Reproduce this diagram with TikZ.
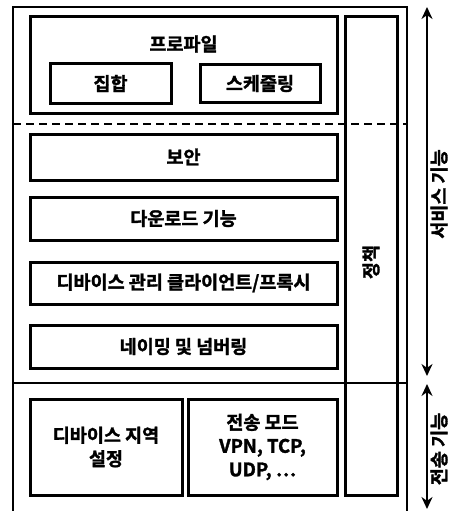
\documentclass[tikz,border=0pt]{standalone}
\usepackage{fontspec}
\setmainfont{Noto Sans CJK KR}[BoldFont={* Bold},BoldFeatures={FakeBold=1.6}]
\usetikzlibrary{arrows.meta}
\begin{document}
\begin{tikzpicture}[x=1pt,y=-1pt,
  box/.style={draw=black,line width=3pt,rectangle,inner sep=0pt,font=\bfseries\fontsize{18.5}{23.5}\selectfont,align=center},
  lbl/.style={inner sep=0pt,font=\bfseries\fontsize{18.5}{23.5}\selectfont,align=center},
  frame/.style={draw=black,line width=2.6pt},
  dbl/.style={line width=2.6pt,{Stealth[length=12pt,width=11pt]}-{Stealth[length=12pt,width=11pt]}}
]
\useasboundingbox (0,0) rectangle (456,511);
% outer frame
\coordinate (fbl) at (13,511);
\coordinate (ftl) at (13,7);
\coordinate (ftr) at (407,7);
\coordinate (fbr) at (407,511);
\draw[frame] (fbl) -- (ftl) -- (ftr) -- (fbr);
% policy column
\node[box,minimum width=52pt,minimum height=478pt] (policy) at (371,256) {};
\node[lbl,rotate=90] (policyt) at (371,262) {정책};
% separators
\coordinate (dl) at (13,124);
\coordinate (dr) at (407,124);
\draw[line width=2.6pt,dash pattern=on 8pt off 5pt] (dl) -- (dr);
\coordinate (sl) at (13,383);
\coordinate (sr) at (407,383);
\draw[frame] (sl) -- (sr);
% profile
\node[box,minimum width=307pt,minimum height=96pt] (profile) at (183.5,65) {};
\node[lbl] (profilet) at (183.5,44) {프로파일};
\node[box,minimum width=121pt,minimum height=39pt] (set) at (110.5,83.5) {집합};
\node[box,minimum width=120pt,minimum height=38pt] (sched) at (260,83.5) {스케줄링};
% service boxes
\node[box,minimum width=307pt,minimum height=46pt] (sec) at (183.5,157) {보안};
\node[box,minimum width=307pt,minimum height=43pt] (down) at (183.5,218.5) {다운로드 기능};
\node[box,minimum width=307pt,minimum height=42pt] (dev) at (183.5,283) {디바이스 관리 클라이언트/프록시};
\node[box,minimum width=307pt,minimum height=43pt] (name) at (183.5,346.5) {네이밍 및 넘버링};
% transport boxes
\node[box,minimum width=152pt,minimum height=96pt] (loc) at (106,447) {디바이스 지역\\설정};
\node[box,minimum width=149pt,minimum height=96pt] (mode) at (262.5,447) {전송 모드\\VPN, TCP,\\UDP, …};
% arrows
\coordinate (a1t) at (427,7);
\coordinate (a1b) at (427,376);
\coordinate (a2t) at (427,384);
\coordinate (a2b) at (427,509);
\draw[dbl] (a1t) -- (a1b);
\draw[dbl] (a2t) -- (a2b);
\node[lbl,rotate=90] (svc) at (439,194) {서비스 기능};
\node[lbl,rotate=90] (trn) at (439,449) {전송 기능};
\end{tikzpicture}
\end{document}
